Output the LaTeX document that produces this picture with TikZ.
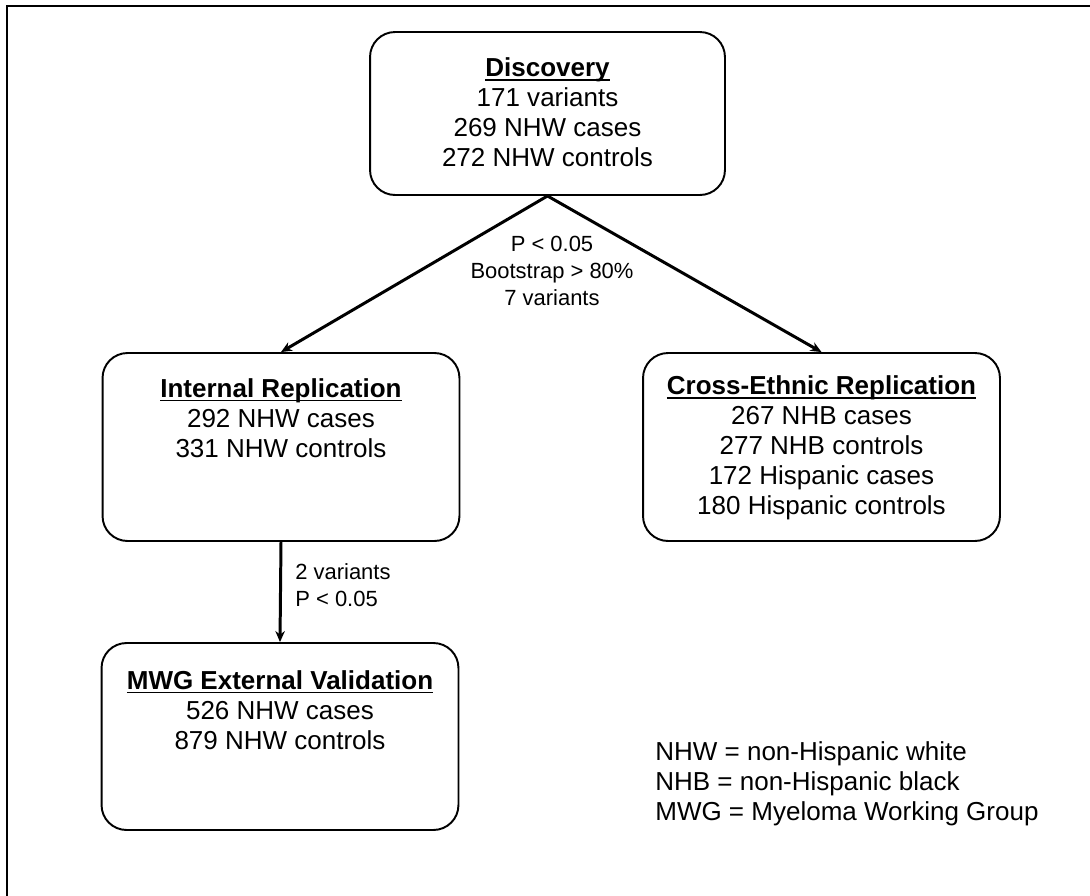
\documentclass[tikz,border=0pt]{standalone}
\usepackage{fontspec}
\setmainfont{Liberation Sans}
\usetikzlibrary{arrows.meta, positioning}
\def\boxW{7.14cm}
\def\boxH{3.76cm}
\def\boxR{0.5cm}
\newcommand{\boxfont}{\fontsize{14.8}{17}\selectfont}
\newcommand{\labfont}{\fontsize{12.5}{15.3}\selectfont}
% bold title, underline at a fixed depth below the baseline
\newcommand{\ttl}[1]{\setbox0\hbox{\textbf{#1}}\rlap{\rule[-2.2pt]{\wd0}{1pt}}\box0}

\begin{document}
\begin{tikzpicture}[
    x=0.02cm, y=-0.02cm,
    >={Stealth[length=2.2mm,width=1.9mm]},
    box/.style={draw, line width=1.1pt, rounded corners=\boxR,
        minimum width=\boxW, minimum height=\boxH},
    boxtxt/.style={align=center, font=\boxfont, inner sep=0pt},
    lab/.style={font=\labfont, inner sep=0pt},
    flow/.style={->, line width=1.7pt}
]
\useasboundingbox (0,0) rectangle (1090,896);
% frame (only top and left edges are visible)
\draw[line width=1.7pt] (7,896) -- (7,6) -- (1090,6);

\node[box, minimum width=7.1cm, minimum height=3.26cm] (disc) at (547.5,113.5) {};
\node[box] (intrep) at (281,447) {};
\node[box] (xeth) at (821.5,447) {};
\node[box, minimum height=3.74cm] (mwg) at (280,736.5) {};

\node[boxtxt] (discTxt) at (547.5,112.5)
    {\ttl{Discovery}\\171 variants\\269 NHW cases\\272 NHW controls};
\node[boxtxt] (intrepTxt) at (281,418)
    {\ttl{Internal Replication}\\292 NHW cases\\331 NHW controls};
\node[boxtxt] (xethTxt) at (821.5,448)
    {\ttl{Cross-Ethnic Replication}\\267 NHB cases\\277 NHB controls\\172 Hispanic cases\\180 Hispanic controls};
\node[boxtxt] (mwgTxt) at (280,710)
    {\ttl{MWG External Validation}\\526 NHW cases\\879 NHW controls};

\draw[flow] (disc.south) -- (intrep.north);
\draw[flow] (disc.south) -- (xeth.north);
\draw[flow] (intrep.south) -- (mwg.north);

\node[lab, align=center] (selLab) at (552,271)
    {P < 0.05\\Bootstrap > 80\%\\7 variants};
\node[lab, align=left, anchor=west] (repLab) at (295,585)
    {2 variants\\P < 0.05};

\node[boxtxt, align=left, anchor=west] (legend) at (655,784)
    {NHW = non-Hispanic white\\NHB = non-Hispanic black\\MWG = Myeloma Working Group};
\end{tikzpicture}
\end{document}
